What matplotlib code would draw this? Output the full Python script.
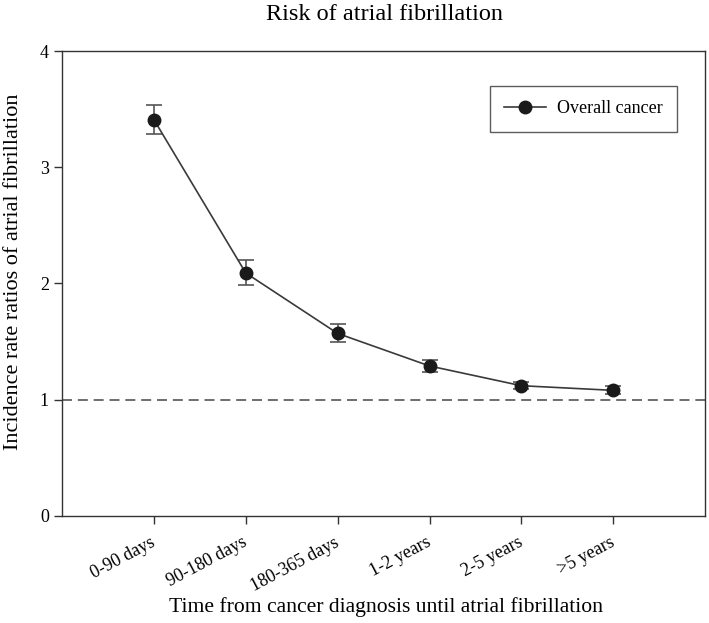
import numpy as np
import matplotlib.pyplot as plt
import matplotlib.transforms as mtransforms

plt.rcParams['font.family'] = ['Liberation Serif', 'DejaVu Serif']

periods = ['0-90 days', '90-180 days', '180-365 days', '1-2 years', '2-5 years', '>5 years']
irr = [3.41, 2.09, 1.57, 1.29, 1.12, 1.08]
ci_low = [3.29, 1.99, 1.50, 1.24, 1.09, 1.05]
ci_high = [3.54, 2.20, 1.65, 1.34, 1.15, 1.12]

x = np.arange(1, len(periods) + 1)
irr = np.array(irr)
yerr = [irr - np.array(ci_low), np.array(ci_high) - irr]

fig = plt.figure(figsize=(7.09, 6.23), dpi=100)
ax = fig.add_axes([0.0875, 0.172, 0.907, 0.746])

# reference line at IRR = 1
ax.axhline(1, color='#555555', ls=(0, (6, 3.5)), lw=1.2, zorder=1)
ax.errorbar(x, irr, yerr=yerr, fmt='none', ecolor='#555555',
            elinewidth=1.2, capsize=5.5, capthick=1.2, zorder=2)
ax.plot(x, irr, 'o-', color='#3a3a3a', mfc='#1a1a1a', mec='#1a1a1a',
        ms=9, lw=1.2, label='Overall cancer', zorder=3)

ax.set_xlim(0, 7)
ax.set_ylim(0, 4)
ax.set_yticks([0, 1, 2, 3, 4])
ax.set_xticks(x)
ax.set_xticklabels(periods, rotation=28, ha='right', rotation_mode='anchor')
ax.tick_params(direction='out', length=6, width=1, colors='#333333', labelsize=13, labelcolor='black')
ax.tick_params(axis='x', pad=7)
shift = mtransforms.ScaledTranslation(-0.04, 0, fig.dpi_scale_trans)
for lab in ax.get_xticklabels():
    lab.set_transform(lab.get_transform() + shift)
for s in ax.spines.values():
    s.set_color('#333333')
    s.set_linewidth(1)

fig.text(0.543, 0.968, 'Risk of atrial fibrillation', fontsize=17.5,
         ha='center', va='baseline')
fig.text(0.544, 0.018, 'Time from cancer diagnosis until atrial fibrillation',
         fontsize=15.6, ha='center', va='baseline')
ax.set_ylabel('Incidence rate ratios of atrial fibrillation', fontsize=16)
ax.yaxis.set_label_coords(-0.061, 0.525)

leg = ax.legend(loc='upper right', bbox_to_anchor=(0.956, 0.925), fontsize=13,
                fancybox=False, edgecolor='#333333', borderpad=0.8, handlelength=2.3,
                handletextpad=0.6, borderaxespad=0)
leg.get_frame().set_linewidth(1)

fig.savefig('out.png', dpi=100)
